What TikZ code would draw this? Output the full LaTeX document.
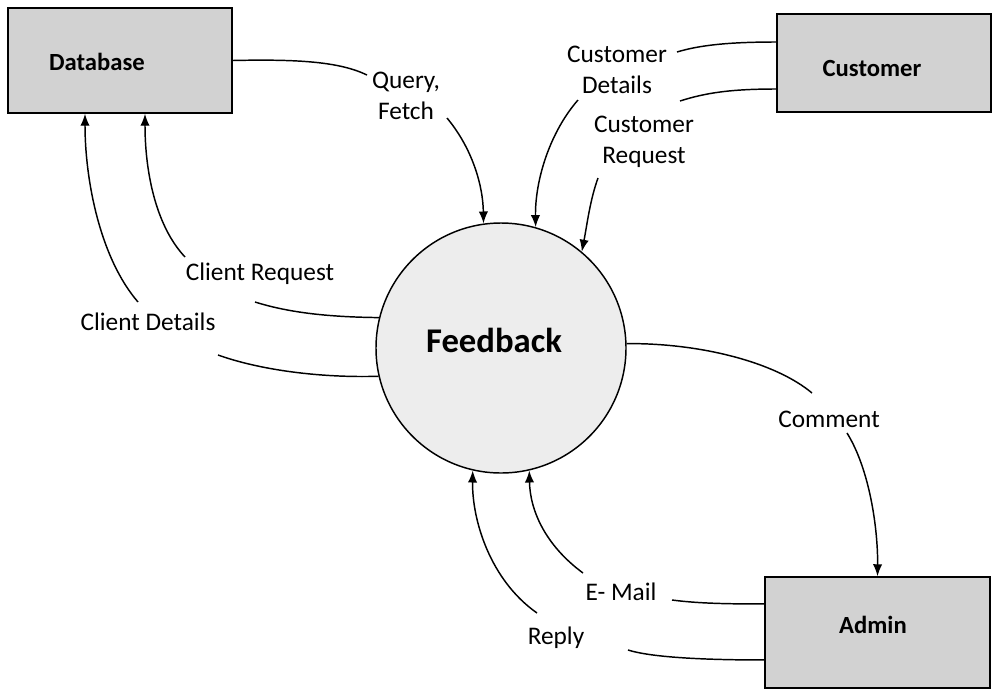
\documentclass[tikz,border=0pt]{standalone}
\usepackage{fontspec}
\setmainfont{Carlito}
\usetikzlibrary{arrows.meta}
\definecolor{boxgray}{HTML}{D2D2D2}
\definecolor{circgray}{HTML}{EDEDED}
\tikzset{
  boxnode/.style={draw=black, line width=1.1pt, fill=boxgray, inner sep=0pt},
  boxtext/.style={font=\bfseries\fontsize{18.5}{22}\selectfont, inner sep=0pt},
  lbl/.style={font=\fontsize{19}{23}\selectfont, align=center, inner sep=0pt},
  flow/.style={line width=1.1pt},
  arr/.style={line width=1.1pt, -{Latex[length=9pt,width=7pt]}},
}
\begin{document}
\begin{tikzpicture}[x=0.75pt, y=-0.75pt]
\useasboundingbox (0,0) rectangle (993,697);
% external entities
\node[boxnode, minimum width=168pt, minimum height=78.75pt] (db) at (120,60.5) {};
\node[boxtext] (dbt) at (97,62) {Database};
\node[boxnode, minimum width=160.5pt, minimum height=73.5pt] (cu) at (884,63) {};
\node[boxtext] (cut) at (872,68) {Customer};
\node[boxnode, minimum width=168.75pt, minimum height=83.25pt] (ad) at (877.5,632.5) {};
\node[boxtext] (adt) at (873,625) {Admin};
% process
\node[draw=black, line width=1.1pt, fill=circgray, circle, minimum size=187.5pt, inner sep=0pt] (fb) at (501,348) {};
\node[font=\bfseries\fontsize{26}{30}\selectfont, inner sep=0pt] (fbt) at (494,340) {Feedback};
% labels
\node[lbl] (qf) at (406,96) {Query,\\Fetch};
\node[lbl] (cr) at (260,274) {Client Request};
\node[lbl] (cd) at (148,322) {Client Details};
\node[lbl] (cud) at (617,70) {Customer\\Details};
\node[lbl] (cur) at (644,142) {Customer\\Request};
\node[lbl] (cm) at (829,419) {Comment};
\node[lbl] (em) at (621,592) {E- Mail};
\node[lbl] (rp) at (556,638) {Reply};
% label line ends
\coordinate (qfa) at (367,75);
\coordinate (qfb) at (447,118);
\coordinate (cra) at (255,302);
\coordinate (crb) at (185,257);
\coordinate (cda) at (218,355);
\coordinate (cdb) at (138,302);
\coordinate (cuda) at (677,52);
\coordinate (cudb) at (578,100);
\coordinate (cura) at (680,101);
\coordinate (curb) at (598,178);
\coordinate (cma) at (812,393);
\coordinate (cmb) at (847,433);
\coordinate (ema) at (672,600);
\coordinate (emb) at (583,573);
\coordinate (rpa) at (628,650);
\coordinate (rpb) at (537,613);
% Query, Fetch
\draw[flow] (db.east) .. controls (300,59) and (340,62) .. (qfa);
\draw[arr] (qfb) .. controls (472,148) and (483,185) .. (fb.98);
% Client Request
\draw[flow] (fb.166) .. controls (330,317) and (290,313) .. (cra);
\draw[arr] (crb) .. controls (155,225) and (145,170) .. ([xshift=18.75pt]db.south);
% Client Details
\draw[flow] (fb.193.5) .. controls (320,378) and (260,370) .. (cda);
\draw[arr] (cdb) .. controls (100,258) and (85,180) .. ([xshift=-26.25pt]db.south);
% Customer Details
\draw[flow] ([yshift=15.75pt]cu.west) .. controls (730,42) and (700,45) .. (cuda);
\draw[arr] (cudb) .. controls (550,132) and (535,180) .. (fb.74.5);
% Customer Request
\draw[flow] ([yshift=-19.5pt]cu.west) .. controls (730,89) and (705,93) .. (cura);
\draw[arr] (curb) .. controls (590,200) and (587,225) .. (fb.50);
% Comment
\draw[flow] (fb.2) .. controls (700,343) and (775,362) .. (cma);
\draw[arr] (cmb) .. controls (870,470) and (878,530) .. (ad.north);
% E- Mail
\draw[flow] ([yshift=21.4pt]ad.west) .. controls (720,604) and (695,603) .. (ema);
\draw[arr] (emb) .. controls (545,545) and (530,510) .. (fb.283);
% Reply
\draw[flow] ([yshift=-20.6pt]ad.west) .. controls (700,660) and (650,657) .. (rpa);
\draw[arr] (rpb) .. controls (490,580) and (472,520) .. (fb.257);
\end{tikzpicture}
\end{document}
